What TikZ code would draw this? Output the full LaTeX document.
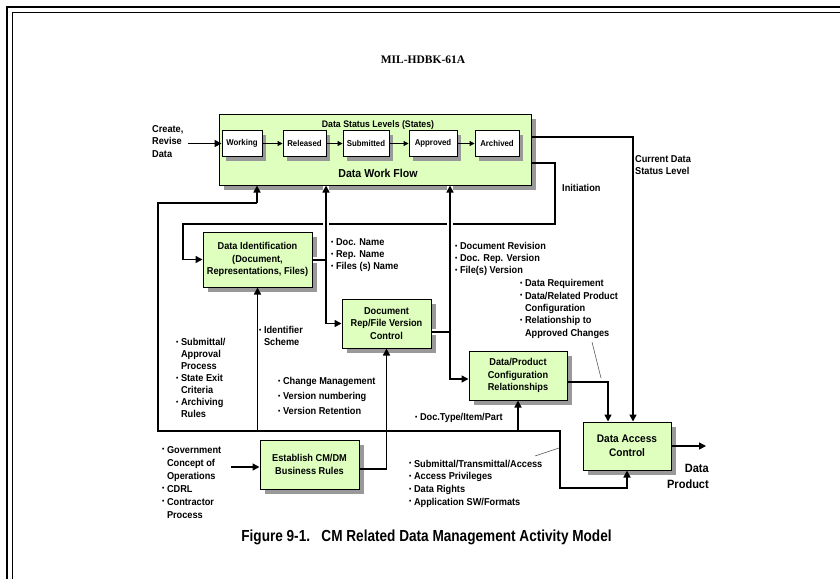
\documentclass[tikz,border=0pt]{standalone}
\usepackage{fontspec}
\setmainfont{Liberation Sans Bold}[FakeStretch=0.92]
\newfontfamily\titlefont{Liberation Serif}
\newfontfamily\capfont{Liberation Sans Bold}[FakeStretch=0.85]
\usetikzlibrary{arrows.meta,shadows}
\definecolor{boxgreen}{RGB}{222,255,190}
\newcommand{\bl}{\raisebox{0.25ex}{\scalebox{0.7}{\textbullet}}}
\newcommand{\blist}[1]{\begin{tabular}{@{}l@{\ }l@{}}#1\end{tabular}}

\begin{document}
\begin{tikzpicture}[x=1pt,y=-1pt]
\tikzset{
  gbox/.style={draw, line width=1pt, fill=boxgreen, align=center, inner sep=0pt,
    drop shadow={shadow xshift=5pt, shadow yshift=-5pt, fill=black!40, opacity=1},
    font=\fontsize{10}{12.5}\selectfont},
  state/.style={draw, line width=0.9pt, fill=white, inner sep=0pt, minimum height=26pt,
    drop shadow={shadow xshift=4pt, shadow yshift=-4pt, fill=black!40, opacity=1},
    font=\fontsize{8.5}{10}\selectfont},
  lbl/.style={inner sep=0pt, align=left, font=\fontsize{10}{12}\selectfont},
  arr/.style={line width=1.5pt, -{Triangle[length=7pt,width=7pt]}},
  sarr/.style={line width=1pt, -{Triangle[length=5pt,width=5pt]}},
  hop/.style={preaction={draw=white, line width=6pt, -}},
  lead/.style={line width=0.5pt, draw=black!70}
}
\useasboundingbox (0,0) rectangle (840,579);
% page frame
\draw[line width=1.6pt] (840,7) -- (7,7) -- (7,579);
\draw[line width=0.8pt] (840,12) -- (12,12) -- (12,579);
\node[font=\titlefont\bfseries\fontsize{11.5}{12}\selectfont] (title) at (423,60) {MIL-HDBK-61A};

% data work flow
\node[gbox, minimum width=312pt, minimum height=71pt] (flow) at (375,149.5) {};
\node[font=\fontsize{9.5}{11}\selectfont] (levels) at (378,125) {Data Status Levels (States)};
\node[font=\fontsize{11.5}{13}\selectfont] (wf) at (378,173) {Data Work Flow};
\node[state, minimum width=40pt] (working) at (242,143.5) {Working};
\node[state, minimum width=43pt] (released) at (304.5,143.5) {Released};
\node[state, minimum width=46pt] (submitted) at (366,143.5) {Submitted};
\node[state, minimum width=48pt] (approved) at (433,143.5) {Approved};
\node[state, minimum width=44pt] (archived) at (497,143.5) {Archived};
\draw[sarr] (working) -- (released);
\draw[sarr] (released) -- (submitted);
\draw[sarr] (submitted) -- (approved);
\draw[sarr] (approved) -- (archived);

% activity boxes
\node[gbox, minimum width=109pt, minimum height=55pt] (dataid) at (257.5,259.5) {Data Identification\\(Document,\\Representations, Files)};
\node[gbox, minimum width=89pt, minimum height=49pt] (docrep) at (386.5,323.5) {Document\\Rep/File Version\\Control};
\node[gbox, minimum width=98pt, minimum height=49pt] (dataprod) at (518,375.5) {Data/Product\\Configuration\\Relationships};
\node[gbox, minimum width=88pt, minimum height=48pt, font=\fontsize{11}{13.5}\selectfont] (access) at (627,446) {Data Access\\Control};
\node[gbox, minimum width=99pt, minimum height=49pt] (rules) at (309.5,464.5) {Establish CM/DM\\Business Rules};

% labels
\node[lbl, anchor=north west, font=\fontsize{10}{12.5}\selectfont] (create) at (152,125) {Create,\\Revise\\Data};
\node[lbl, anchor=north west] (current) at (635,155) {Current Data\\Status Level};
\node[lbl, anchor=west] (initiation) at (562,188) {Initiation};
\node[lbl, anchor=north east, align=right, font=\fontsize{12}{16}\selectfont] (product) at (709,464) {Data\\Product};
\node[lbl, anchor=north west] (names) at (331,237) {\blist{\bl & Doc. Name\\ \bl & Rep. Name\\ \bl & Files (s) Name}};
\node[lbl, anchor=north west] (versions) at (455,241) {\blist{\bl & Document Revision\\ \bl & Doc. Rep. Version\\ \bl & File(s) Version}};
\node[lbl, anchor=north west, font=\fontsize{10}{12.3}\selectfont] (reqs) at (520,278) {\blist{\bl & Data Requirement\\ \bl & Data/Related Product\\ & Configuration\\ \bl & Relationship to\\ & Approved Changes}};
\node[lbl, anchor=north west] (ident) at (259,325) {\blist{\bl & Identifier\\ & Scheme}};
\node[lbl, anchor=north west] (submit) at (176,337) {\blist{\bl & Submittal/\\ & Approval\\ & Process\\ \bl & State Exit\\ & Criteria\\ \bl & Archiving\\ & Rules}};
\node[lbl, anchor=north west, font=\fontsize{10}{15}\selectfont] (change) at (278,374) {\blist{\bl & Change Management\\ \bl & Version numbering\\ \bl & Version Retention}};
\node[lbl, anchor=north west] (doctype) at (415,412) {\blist{\bl & Doc.Type/Item/Part}};
\node[lbl, anchor=north west, font=\fontsize{10}{13}\selectfont] (gov) at (162,444) {\blist{\bl & Government\\ & Concept of\\ & Operations\\ \bl & CDRL\\ \bl & Contractor\\ & Process}};
\node[lbl, anchor=north west, font=\fontsize{10}{12.7}\selectfont] (privs) at (409,458) {\blist{\bl & Submittal/Transmittal/Access\\ \bl & Access Privileges\\ \bl & Data Rights\\ \bl & Application SW/Formats}};
\node[font=\capfont\fontsize{16}{18}\selectfont] (caption) at (426.5,537) {Figure 9-1.\ \ \ CM Related Data Management Activity Model};

% connectors
\draw[arr] ([xshift=4pt]create.east |- working.west) -- (working.west);
\draw[arr] ([yshift=12.5pt]flow.east) -| ([xshift=6pt]access.north);
\coordinate (iniR) at (555,224);
\coordinate (iniL) at (183,224);
\draw[arr] ([yshift=-13.5pt]flow.east) -| (iniR) -- (iniL) |- (dataid.west);
\coordinate (busA) at (257,203);
\coordinate (busB) at (158,431);
\coordinate (busC) at (560,488);
\draw[arr] (busA) -- (busA |- flow.south);
\draw[arr] (busA) -| (busB) -| (busC) -| (access.south);
\draw[arr] (dataid.south |- busB) -- (dataid.south);
\draw[arr] (dataprod.south |- busB) -- (dataprod.south);
\coordinate (jId) at (326,260);
\draw[arr, hop] (dataid.east |- jId) -- (jId) -- (jId |- flow.south);
\draw[arr] (jId) |- (docrep.west);
\coordinate (jDoc) at (450,332);
\draw[arr, hop] ([yshift=-8.5pt]docrep.east) -- (jDoc) -- (jDoc |- flow.south);
\draw[arr] (jDoc) |- ([yshift=-3.5pt]dataprod.west);
\draw[arr] ([yshift=-6.5pt]dataprod.east) -| ([xshift=-19pt]access.north);
\coordinate (out) at (706,446);
\draw[arr] (access.east) -- (out);
\draw[arr] ([yshift=-4.5pt]rules.east) -| (docrep.south);
\coordinate (govOut) at (231,467);
\draw[arr] (govOut) -- (govOut -| rules.west);
\coordinate (ldA) at (592,342);
\coordinate (ldB) at (601,378);
\draw[lead] (ldA) -- (ldB);
\coordinate (ldC) at (535,456);
\coordinate (ldD) at (559,448);
\draw[lead] (ldC) -- (ldD);
\end{tikzpicture}
\end{document}
